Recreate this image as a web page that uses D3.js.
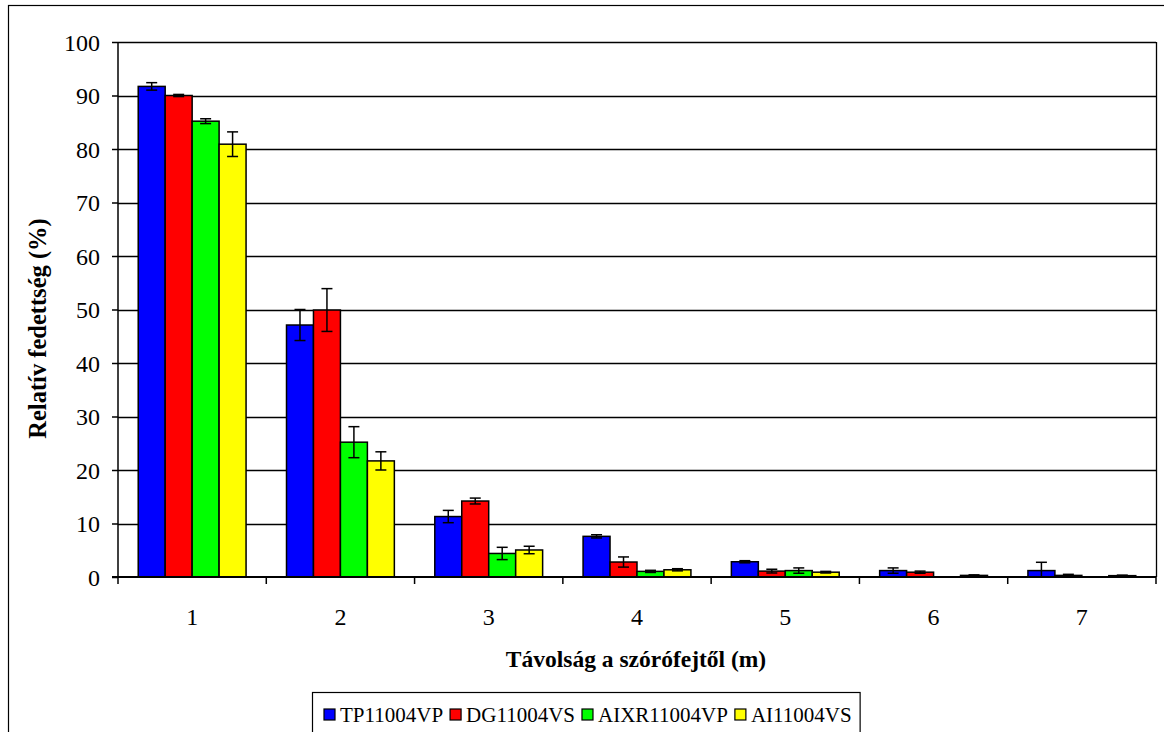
<!DOCTYPE html>
<html>
<head>
<meta charset="utf-8">
<script src="https://cdn.jsdelivr.net/npm/d3@7"></script>
<style>
  html, body { margin: 0; padding: 0; background: #fff; }
  svg { display: block; }
  text { font-family: "Liberation Serif", "Times New Roman", serif; fill: #000; }
</style>
</head>
<body>
<svg id="chart" width="1164" height="732"></svg>
<script>
const categories = ["1", "2", "3", "4", "5", "6", "7"];
const seriesNames = ["TP11004VP", "DG11004VS", "AIXR11004VP", "AI11004VS"];
const seriesColors = ["#0000FF", "#FF0000", "#00FF00", "#FFFF00"];
const tp11004vp = [91.7, 47.1, 11.3, 7.6, 2.85, 1.2, 1.2];
const dg11004vs = [90.0, 49.9, 14.2, 2.8, 1.1, 0.9, 0.3];
const aixr11004vp = [85.2, 25.2, 4.4, 1.05, 1.2, 0, 0];
const ai11004vs = [80.9, 21.7, 5.05, 1.35, 0.9, 0.3, 0.25];
const tpErr = [0.7, 2.9, 1.15, 0.3, 0.2, 0.5, 1.55];
const dgErr = [0.2, 4.0, 0.55, 0.95, 0.35, 0.2, 0.2];
const aixrErr = [0.45, 2.9, 1.15, 0.2, 0.5, 0, 0];
const aiErr = [2.3, 1.7, 0.7, 0.2, 0.15, 0.1, 0.1];
const yTicks = [0, 10, 20, 30, 40, 50, 60, 70, 80, 90, 100];
const yTitle = "Relatív fedettség (%)";
const xTitle = "Távolság a szórófejtől (m)";

const seriesValues = [tp11004vp, dg11004vs, aixr11004vp, ai11004vs];
const seriesErrors = [tpErr, dgErr, aixrErr, aiErr];

const svg = d3.select("#chart");
const pLeft = 118, pRight = 1156, pTop = 42, pBottom = 577;

// outer chart border
svg.append("rect").attr("x", 8.5).attr("y", 5.5).attr("width", 1170).attr("height", 740)
  .attr("fill", "#fff").attr("stroke", "#000").attr("stroke-width", 1.2);

const x0 = d3.scaleBand().domain(categories).range([pLeft, pRight]).padding(0);
const x1 = d3.scaleBand().domain(seriesNames).range([0, x0.bandwidth()])
  .paddingInner(0).paddingOuter(0.75);
const y = d3.scaleLinear().domain([0, 100]).range([pBottom, pTop]);

// gridlines
svg.append("g").selectAll("line").data(yTicks.filter(d => d > 0)).join("line")
  .attr("x1", pLeft).attr("x2", pRight)
  .attr("y1", d => Math.round(y(d)) + 0.5).attr("y2", d => Math.round(y(d)) + 0.5)
  .attr("stroke", "#000").attr("stroke-width", 1.3);

// plot area right border
svg.append("line").attr("x1", pRight + 0.5).attr("x2", pRight + 0.5)
  .attr("y1", y(100)).attr("y2", pBottom).attr("stroke", "#000").attr("stroke-width", 1.3);

// bars
const groups = svg.append("g").selectAll("g").data(seriesNames).join("g");
groups.each(function(name, si) {
  const g = d3.select(this);
  const data = categories.map((c, i) => ({ c, v: seriesValues[si][i], e: seriesErrors[si][i] }));
  g.selectAll("rect").data(data.filter(d => d.v > 0)).join("rect")
    .attr("x", d => x0(d.c) + x1(name))
    .attr("y", d => y(d.v))
    .attr("width", x1.bandwidth())
    .attr("height", d => y(0) - y(d.v))
    .attr("fill", seriesColors[si])
    .attr("stroke", "#000").attr("stroke-width", 1.5);
  // error bars
  const eg = g.append("g");
  data.filter(d => d.e > 0).forEach(d => {
    const cx = x0(d.c) + x1(name) + x1.bandwidth() / 2;
    const lo = Math.max(0, d.v - d.e), hi = d.v + d.e;
    eg.append("line").attr("x1", cx).attr("x2", cx).attr("y1", y(lo)).attr("y2", y(hi))
      .attr("stroke", "#000").attr("stroke-width", 1.5);
    [hi, d.v - d.e].forEach(t => {
      if (t < 0) return;
      eg.append("line").attr("x1", cx - 5.5).attr("x2", cx + 5.5).attr("y1", y(t)).attr("y2", y(t))
        .attr("stroke", "#000").attr("stroke-width", 1.5);
    });
  });
});

// y axis
const yAxis = d3.axisLeft(y).tickValues(yTicks).tickSize(6).tickPadding(12).tickFormat(d3.format("d"));
const ya = svg.append("g").attr("transform", `translate(${pLeft},0)`).call(yAxis)
  .attr("font-family", "Liberation Serif").attr("font-size", 24);
ya.select(".domain").attr("stroke", "#000").attr("stroke-width", 1.5).attr("d", `M0,${pTop}V${pBottom}`);
ya.selectAll(".tick line").attr("stroke", "#000").attr("stroke-width", 1.5);
ya.selectAll(".tick text").attr("font-size", 24).attr("dy", "0.34em");

// x axis
const xa = svg.append("g").attr("transform", `translate(0,${pBottom})`);
xa.append("line").attr("x1", pLeft - 6).attr("x2", pRight).attr("y1", 0).attr("y2", 0)
  .attr("stroke", "#000").attr("stroke-width", 2);
const boundaries = categories.map(c => x0(c)).concat([x0(categories[categories.length - 1]) + x0.bandwidth()]);
xa.selectAll("line.tk").data(boundaries).join("line").attr("class", "tk")
  .attr("x1", d => d).attr("x2", d => d).attr("y1", 0).attr("y2", 7)
  .attr("stroke", "#000").attr("stroke-width", 1.5);
xa.selectAll("text").data(categories).join("text")
  .attr("x", d => x0(d) + x0.bandwidth() / 2).attr("y", 48)
  .attr("text-anchor", "middle").attr("font-size", 24).text(d => d);

// axis titles
svg.append("text").attr("transform", `translate(46,${(pTop + pBottom) / 2 + 19}) rotate(-90)`)
  .attr("text-anchor", "middle").attr("font-weight", "bold").attr("font-size", 24.5).text(yTitle);
svg.append("text").attr("x", 636).attr("y", 667)
  .attr("text-anchor", "middle").attr("font-weight", "bold").attr("font-size", 23.5).text(xTitle);

// legend
const lg = svg.append("g");
const lgBox = lg.append("rect").attr("y", 692.5).attr("height", 60).attr("fill", "#fff")
  .attr("stroke", "#000").attr("stroke-width", 1.2);
let lx = 324;
seriesNames.forEach((name, i) => {
  lg.append("rect").attr("x", lx).attr("y", 709).attr("width", 11).attr("height", 11)
    .attr("fill", seriesColors[i]).attr("stroke", "#000").attr("stroke-width", 1.2);
  const t = lg.append("text").attr("x", lx + 16).attr("y", 722).attr("font-size", 21).text(name);
  const w = t.node().getComputedTextLength();
  lx += 16 + w + 7;
});
lgBox.attr("x", 312.5).attr("width", lx - 312 + 1);
</script>
</body>
</html>
